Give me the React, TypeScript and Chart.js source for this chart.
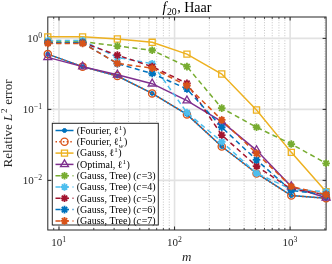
import React, { useEffect, useRef } from 'react';
import { Chart, registerables } from 'chart.js';
import { drawPoint } from 'chart.js/helpers';

Chart.register(...registerables);

// ---------------- data ----------------
const mSamples = [8, 16, 32, 64, 128, 256, 512, 1024, 2048];
const errFourierL1 = [0.6, 0.4, 0.295, 0.168, 0.085, 0.03, 0.0126, 0.0061, 0.0056];
const errFourierL1w = [0.6, 0.4, 0.295, 0.168, 0.085, 0.03, 0.0125, 0.0061, 0.0056];
const errGaussL1 = [1.05, 1.05, 0.98, 0.88, 0.6, 0.315, 0.098, 0.0248, 0.0069];
const errOptimalL1 = [0.54, 0.4, 0.308, 0.23, 0.133, 0.067, 0.0265, 0.0082, 0.0057];
const errTreeC3 = [0.9, 0.9, 0.78, 0.68, 0.4, 0.104, 0.056, 0.0325, 0.0174];
const errTreeC4 = [0.93, 0.93, 0.54, 0.44, 0.09, 0.035, 0.0126, 0.0075, 0.0069];
const errTreeC5 = [0.87, 0.87, 0.58, 0.4, 0.233, 0.0435, 0.0159, 0.0075, 0.0063];
const errTreeC6 = [0.87, 0.87, 0.44, 0.32, 0.194, 0.056, 0.0194, 0.0072, 0.0063];
const errTreeC7 = [0.85, 0.85, 0.445, 0.38, 0.216, 0.071, 0.024, 0.0082, 0.0063];

const xRange = [8, 2048];
const yRange = [0.002, 2];
const xMajorTicks = [10, 100, 1000];
const xMajorExp = ['1', '2', '3'];
const yMajorTicks = [1, 0.1, 0.01];
const yMajorExp = ['0', '\u22121', '\u22122'];

type Seg = { t: string; it?: boolean; k?: 'sup' | 'sub'; sub?: string };

const seriesLabels: Seg[][] = [
  [{ t: '(Fourier, ' }, { t: '\u2113' }, { t: '1', k: 'sup' }, { t: ')' }],
  [{ t: '(Fourier, ' }, { t: '\u2113' }, { t: '1', k: 'sup', sub: 'w' }, { t: ')' }],
  [{ t: '(Gauss, ' }, { t: '\u2113' }, { t: '1', k: 'sup' }, { t: ')' }],
  [{ t: '(Optimal, ' }, { t: '\u2113' }, { t: '1', k: 'sup' }, { t: ')' }],
  [{ t: '(Gauss, Tree) (' }, { t: 'c', it: true }, { t: '=3)' }],
  [{ t: '(Gauss, Tree) (' }, { t: 'c', it: true }, { t: '=4)' }],
  [{ t: '(Gauss, Tree) (' }, { t: 'c', it: true }, { t: '=5)' }],
  [{ t: '(Gauss, Tree) (' }, { t: 'c', it: true }, { t: '=6)' }],
  [{ t: '(Gauss, Tree) (' }, { t: 'c', it: true }, { t: '=7)' }],
];
const titleSegs: Seg[] = [{ t: 'f', it: true }, { t: '20', k: 'sub' }, { t: ', Haar' }];
const yLabelSegs: Seg[] = [{ t: 'Relative ' }, { t: 'L', it: true }, { t: '2', k: 'sup' }, { t: ' error' }];
const xLabelSegs: Seg[] = [{ t: 'm', it: true }];

const seriesValues = [
  errFourierL1, errFourierL1w, errGaussL1, errOptimalL1,
  errTreeC3, errTreeC4, errTreeC5, errTreeC6, errTreeC7,
];

// ---------------- styles ----------------
const seriesStyles = [
  { color: '#0072BD', dash: [] as number[], point: 'circle', r: 2, fill: true, bw: 1 },
  { color: '#D95319', dash: [1.5, 2.2], point: 'circle', r: 3.6, fill: false, bw: 1.3 },
  { color: '#EDB120', dash: [], point: 'rect', r: 4.3, fill: false, bw: 1.3 },
  { color: '#7E2F8E', dash: [], point: 'triangle', r: 4.6, fill: false, bw: 1.3 },
  { color: '#77AC30', dash: [5, 3.5], point: 'star', r: 3.8, fill: false, bw: 1.8 },
  { color: '#4DBEEE', dash: [5, 3.5], point: 'star', r: 3.8, fill: false, bw: 1.8 },
  { color: '#A2142F', dash: [5, 3.5], point: 'star', r: 3.8, fill: false, bw: 1.8 },
  { color: '#0072BD', dash: [5, 3.5], point: 'star', r: 3.8, fill: false, bw: 1.8 },
  { color: '#D95319', dash: [5, 3.5], point: 'star', r: 3.8, fill: false, bw: 1.8 },
];

const W = 332;
const H = 264;
const AREA = { left: 47.8, right: 326.8, top: 17, bottom: 230 };
const FONT = '"Liberation Serif", "Times New Roman", serif';
const AXIS_COLOR = '#262626';

function font(size: number, italic = false) {
  return `${italic ? 'italic ' : ''}${size}px ${FONT}`;
}

function segAdvance(ctx: CanvasRenderingContext2D, s: Seg, size: number) {
  if (s.k) {
    const small = size * 0.7;
    ctx.font = font(small, s.it);
    let w = ctx.measureText(s.t).width;
    if (s.sub) {
      ctx.font = font(small, true);
      w = Math.max(w, ctx.measureText(s.sub).width);
    }
    return w + 0.5;
  }
  ctx.font = font(size, s.it);
  return ctx.measureText(s.t).width + (s.it ? 0.6 : 0);
}

function drawRich(
  ctx: CanvasRenderingContext2D, segs: Seg[], x: number, y: number, size: number,
  align: 'left' | 'center' | 'right',
) {
  let total = 0;
  for (const s of segs) total += segAdvance(ctx, s, size);
  let cx = align === 'left' ? x : align === 'center' ? x - total / 2 : x - total;
  ctx.textAlign = 'left';
  ctx.textBaseline = 'alphabetic';
  for (const s of segs) {
    const adv = segAdvance(ctx, s, size);
    if (s.k === 'sup') {
      const small = size * 0.7;
      ctx.font = font(small, s.it);
      ctx.fillText(s.t, cx, y - size * 0.4);
      if (s.sub) {
        ctx.font = font(small, true);
        ctx.fillText(s.sub, cx, y + size * 0.25);
      }
    } else if (s.k === 'sub') {
      ctx.font = font(size * 0.7, s.it);
      ctx.fillText(s.t, cx, y + size * 0.25);
    } else {
      ctx.font = font(size, s.it);
      ctx.fillText(s.t, cx, y);
    }
    cx += adv;
  }
}

function minorGridValues(): number[] {
  const out: number[] = [];
  for (let d = 1; d <= 1000; d *= 10) {
    for (let k = 2; k <= 9; k++) {
      const v = k * d;
      if (v > xRange[0] && v < xRange[1]) out.push(v);
    }
  }
  return out;
}

const decorPlugin = {
  id: 'decor',
  beforeDatasetsDraw(chart: any) {
    const { ctx, chartArea: a, scales } = chart;
    const x = scales.x;
    const y = scales.y;
    ctx.save();
    ctx.strokeStyle = '#b8b8b8';
    ctx.lineWidth = 0.8;
    ctx.setLineDash([1, 1.6]);
    for (const v of minorGridValues()) {
      const px = x.getPixelForValue(v);
      ctx.beginPath();
      ctx.moveTo(px, a.top);
      ctx.lineTo(px, a.bottom);
      ctx.stroke();
    }
    ctx.setLineDash([]);
    ctx.strokeStyle = '#e2e2e2';
    ctx.lineWidth = 1.6;
    for (const v of xMajorTicks) {
      const px = x.getPixelForValue(v);
      ctx.beginPath();
      ctx.moveTo(px, a.top);
      ctx.lineTo(px, a.bottom);
      ctx.stroke();
    }
    for (const v of yMajorTicks) {
      const py = y.getPixelForValue(v);
      ctx.beginPath();
      ctx.moveTo(a.left, py);
      ctx.lineTo(a.right, py);
      ctx.stroke();
    }
    ctx.strokeStyle = AXIS_COLOR;
    ctx.lineWidth = 1;
    ctx.strokeRect(a.left, a.top, a.right - a.left, a.bottom - a.top);
    ctx.lineWidth = 1;
    for (const v of xMajorTicks) {
      const px = x.getPixelForValue(v);
      ctx.beginPath();
      ctx.moveTo(px, a.bottom); ctx.lineTo(px, a.bottom - 3.5);
      ctx.moveTo(px, a.top); ctx.lineTo(px, a.top + 3.5);
      ctx.stroke();
    }
    ctx.lineWidth = 0.8;
    for (const v of minorGridValues()) {
      const px = x.getPixelForValue(v);
      ctx.beginPath();
      ctx.moveTo(px, a.bottom); ctx.lineTo(px, a.bottom - 2);
      ctx.moveTo(px, a.top); ctx.lineTo(px, a.top + 2);
      ctx.stroke();
    }
    ctx.lineWidth = 1;
    for (const v of yMajorTicks) {
      const py = y.getPixelForValue(v);
      ctx.beginPath();
      ctx.moveTo(a.left, py); ctx.lineTo(a.left + 3.5, py);
      ctx.moveTo(a.right, py); ctx.lineTo(a.right - 3.5, py);
      ctx.stroke();
    }
    ctx.restore();
  },
  afterDatasetsDraw(chart: any) {
    const { ctx, chartArea: a, scales } = chart;
    const x = scales.x;
    const y = scales.y;
    ctx.save();
    ctx.fillStyle = AXIS_COLOR;
    xMajorTicks.forEach((v, i) => {
      const px = x.getPixelForValue(v);
      drawRich(ctx, [{ t: '10' }, { t: xMajorExp[i], k: 'sup' }], px, 246, 11, 'center');
    });
    yMajorTicks.forEach((v, i) => {
      const py = y.getPixelForValue(v);
      drawRich(ctx, [{ t: '10' }, { t: yMajorExp[i], k: 'sup' }], 42.5, py + 3.8, 11, 'right');
    });
    drawRich(ctx, xLabelSegs, (a.left + a.right) / 2, 261, 13, 'center');
    ctx.save();
    ctx.translate(12, (a.top + a.bottom) / 2);
    ctx.rotate(-Math.PI / 2);
    drawRich(ctx, yLabelSegs, 0, 0, 13, 'center');
    ctx.restore();
    ctx.fillStyle = '#000';
    drawRich(ctx, titleSegs, (a.left + a.right) / 2, 11.5, 14, 'center');

    const LEG = { left: 52.3, top: 123.3, right: 158.3, bottom: 225, row0: 130.5, rowH: 11.3, x0: 55.5, x1: 73.5, tx: 76.7 };
    ctx.fillStyle = '#ffffff';
    ctx.fillRect(LEG.left, LEG.top, LEG.right - LEG.left, LEG.bottom - LEG.top);
    ctx.strokeStyle = AXIS_COLOR;
    ctx.lineWidth = 1;
    ctx.strokeRect(LEG.left, LEG.top, LEG.right - LEG.left, LEG.bottom - LEG.top);
    chart.data.datasets.forEach((ds: any, i: number) => {
      const cy = LEG.row0 + i * LEG.rowH;
      ctx.strokeStyle = ds.borderColor;
      ctx.lineWidth = ds.borderWidth;
      ctx.setLineDash(ds.borderDash || []);
      ctx.beginPath();
      ctx.moveTo(LEG.x0, cy);
      ctx.lineTo(LEG.x1, cy);
      ctx.stroke();
      ctx.setLineDash([]);
      ctx.fillStyle = ds.pointBackgroundColor;
      ctx.strokeStyle = ds.pointBorderColor;
      ctx.lineWidth = ds.pointBorderWidth;
      drawPoint(ctx, {
        pointStyle: ds.pointStyle, radius: ds.pointRadius, rotation: 0, borderWidth: ds.pointBorderWidth,
      } as any, (LEG.x0 + LEG.x1) / 2, cy);
      ctx.fillStyle = '#000';
      drawRich(ctx, seriesLabels[i], LEG.tx, cy + 3.3, 10, 'left');
    });
    ctx.restore();
  },
};

export default function App() {
  const ref = useRef<HTMLCanvasElement | null>(null);
  useEffect(() => {
    if (!ref.current) return;
    const n = seriesValues.length;
    const datasets = seriesValues.map((vals, i) => {
      const st = seriesStyles[i];
      return {
        label: seriesLabels[i].map((s) => s.t).join(''),
        data: mSamples.map((m, j) => ({ x: m, y: vals[j] })),
        borderColor: st.color,
        borderWidth: 1.5,
        borderDash: st.dash,
        pointStyle: st.point,
        pointRadius: st.r,
        pointBorderColor: st.color,
        pointBorderWidth: st.bw,
        pointBackgroundColor: st.fill ? st.color : 'rgba(0,0,0,0)',
        tension: 0,
        fill: false,
        clip: false as any,
        order: n - i,
      };
    });
    const chart = new Chart(ref.current, {
      type: 'line',
      data: { datasets },
      options: {
        animation: false,
        responsive: false,
        devicePixelRatio: 1,
        events: [],
        layout: {
          padding: { left: AREA.left, right: W - AREA.right, top: AREA.top, bottom: H - AREA.bottom },
        },
        plugins: { legend: { display: false }, tooltip: { enabled: false }, title: { display: false } },
        scales: {
          x: {
            type: 'logarithmic', min: xRange[0], max: xRange[1],
            grid: { display: false }, border: { display: false }, ticks: { display: false },
            afterFit: (s: any) => { s.height = 0; },
          },
          y: {
            type: 'logarithmic', min: yRange[0], max: yRange[1],
            grid: { display: false }, border: { display: false }, ticks: { display: false },
            afterFit: (s: any) => { s.width = 0; },
          },
        },
      } as any,
      plugins: [decorPlugin],
    });
    return () => chart.destroy();
  }, []);
  return (
    <div style={{ position: 'fixed', left: 0, top: 0, width: W, height: H, background: '#fff' }}>
      <canvas ref={ref} width={W} height={H} style={{ width: W, height: H, display: 'block' }} />
    </div>
  );
}
